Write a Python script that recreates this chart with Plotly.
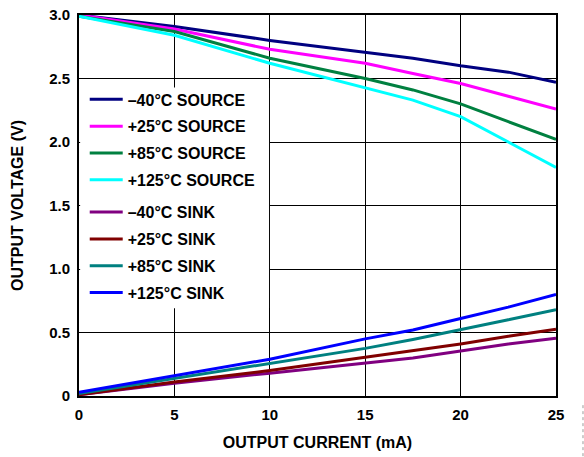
import plotly.graph_objects as go

# Output current (mA) sample points
current = [0, 5, 10, 15, 17.5, 20, 22.5, 25]

# Sourcing: output voltage (V) vs load current
src_m40 = [3.00, 2.91, 2.80, 2.71, 2.66, 2.60, 2.55, 2.47]
src_p25 = [3.00, 2.89, 2.73, 2.62, 2.54, 2.46, 2.36, 2.26]
src_p85 = [2.99, 2.87, 2.66, 2.50, 2.41, 2.30, 2.16, 2.02]
src_p125 = [2.99, 2.84, 2.62, 2.43, 2.33, 2.20, 2.00, 1.80]

# Sinking: output voltage (V) vs load current
snk_m40 = [0.01, 0.10, 0.18, 0.26, 0.30, 0.355, 0.41, 0.455]
snk_p25 = [0.01, 0.11, 0.20, 0.305, 0.355, 0.41, 0.47, 0.525]
snk_p85 = [0.02, 0.14, 0.26, 0.375, 0.445, 0.52, 0.60, 0.68]
snk_p125 = [0.03, 0.16, 0.29, 0.45, 0.52, 0.61, 0.70, 0.80]

x_ticks = [0, 5, 10, 15, 20, 25]
y_ticks = [0, 0.5, 1.0, 1.5, 2.0, 2.5, 3.0]
y_tick_text = ["0", "0.5", "1.0", "1.5", "2.0", "2.5", "3.0"]

series = [
    ("–40°C SOURCE", src_m40, "#000080", "legend"),
    ("+25°C SOURCE", src_p25, "#FF00FF", "legend"),
    ("+85°C SOURCE", src_p85, "#008040", "legend"),
    ("+125°C SOURCE", src_p125, "#00FFFF", "legend"),
    ("–40°C SINK", snk_m40, "#800080", "legend2"),
    ("+25°C SINK", snk_p25, "#800000", "legend2"),
    ("+85°C SINK", snk_p85, "#008080", "legend2"),
    ("+125°C SINK", snk_p125, "#0000FF", "legend2"),
]

FONT = "Liberation Sans, Arial, sans-serif"
BOLD = dict(family=FONT, size=16, color="black", weight="bold")
TICK = dict(family=FONT, size=15, color="black", weight="bold")

fig = go.Figure()
for i, (name, vals, color, leg) in enumerate(series):
    fig.add_trace(go.Scatter(
        x=current, y=vals, mode="lines", name=name,
        line=dict(color=color, width=3),
        legend=leg, legendgroup=f"g{i}",
    ))

legend_common = dict(
    xanchor="left", yanchor="top",
    bgcolor="rgba(0,0,0,0)", borderwidth=0,
    font=BOLD,
    traceorder="grouped", tracegroupgap=3, itemwidth=33,
)

fig.update_layout(
    width=584, height=457,
    margin=dict(l=79, r=28, t=15, b=61, autoexpand=False),
    paper_bgcolor="white", plot_bgcolor="white",
    font=BOLD,
    legend=dict(x=0.012, y=0.823, **legend_common),
    legend2=dict(x=0.012, y=0.527, **legend_common),
    xaxis=dict(
        range=[0, 25], tickvals=x_ticks, ticks="", showgrid=True,
        gridcolor="black", gridwidth=1, showline=True, linecolor="black",
        linewidth=2, mirror=True, zeroline=False, automargin=False,
        tickfont=TICK, ticklabelstandoff=4,
        title=dict(text="OUTPUT CURRENT (mA)", standoff=15, font=BOLD),
    ),
    yaxis=dict(
        range=[0, 3], tickvals=y_ticks, ticktext=y_tick_text, ticks="",
        showgrid=True, gridcolor="black", gridwidth=1, showline=True,
        linecolor="black", linewidth=2, mirror=True, zeroline=False,
        automargin=False,
        tickfont=TICK, ticklabelstandoff=4,
        title=dict(text="OUTPUT VOLTAGE (V)", standoff=22, font=BOLD),
    ),
    shapes=[
        # blank panel behind the legend entries
        dict(type="rect", xref="x", yref="y", x0=0.06, x1=9.96, y0=0.69, y1=2.43,
             fillcolor="white", line=dict(width=0), layer="above"),
        # dotted margin rule at the lower right edge
        dict(type="line", xref="paper", yref="paper", x0=1.0566, x1=1.0566,
             y0=-0.024, y1=-0.17, line=dict(color="#9a9a9a", width=1, dash="dot")),
    ],
)

fig.write_html("out.html")
